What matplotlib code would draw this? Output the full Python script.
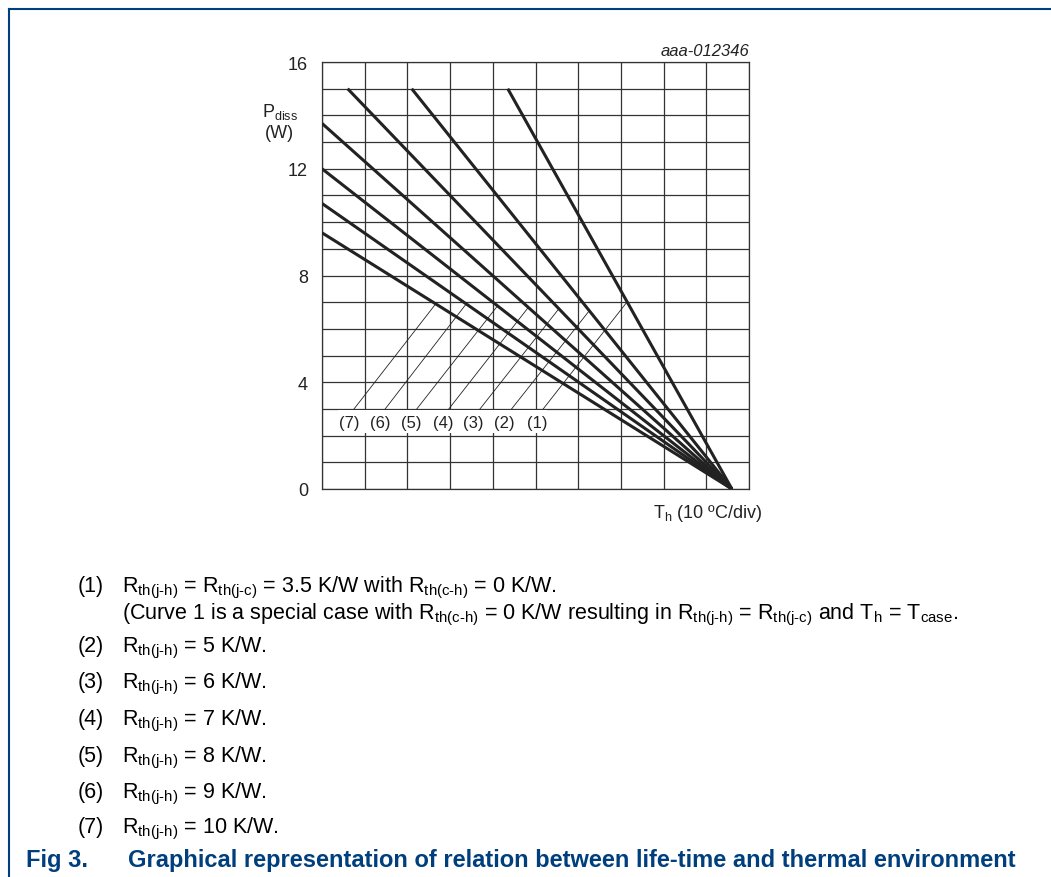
import matplotlib
matplotlib.use("Agg")
import matplotlib.pyplot as plt
from matplotlib.lines import Line2D
from matplotlib.patches import Rectangle

plt.rcParams['font.family'] = ['Liberation Sans', 'DejaVu Sans']
plt.rcParams['mathtext.fontset'] = 'custom'
plt.rcParams['mathtext.rm'] = 'Liberation Sans'
plt.rcParams['mathtext.it'] = 'Liberation Sans:italic'
plt.rcParams['mathtext.default'] = 'regular'

# curves: straight lines from a start point to the common end point (Tj max)
curve_ids = ["(1)", "(2)", "(3)", "(4)", "(5)", "(6)", "(7)"]
start_x = [4.35, 2.1, 0.6, 0.0, 0.0, 0.0, 0.0]
start_p = [15.0, 15.0, 15.0, 13.7, 12.0, 10.7, 9.6]
end_x = 9.6
end_p = 0.0

# curve labels and their leader lines
label_x = [5.03, 4.28, 3.55, 2.83, 2.1, 1.37, 0.63]
label_y = 2.5
leader_x0 = [5.18, 4.44, 3.70, 2.97, 2.22, 1.48, 0.75]
leader_y0 = 3.0
leader_x1 = [7.14, 6.26, 5.54, 4.82, 4.11, 3.37, 2.66]
leader_y1 = [7.0, 6.68, 6.74, 6.78, 6.86, 6.92, 6.93]

y_ticks = [0, 4, 8, 12, 16]

HY = "\u2010"
notes = [
    ("(1)", "R$_{th(j" + HY + "h)}$ = R$_{th(j" + HY + "c)}$ = 3.5 K/W with R$_{th(c" + HY + "h)}$ = 0 K/W."),
    ("", "(Curve 1 is a special case with R$_{th(c" + HY + "h)}$ = 0 K/W resulting in R$_{th(j" + HY + "h)}$"
         " = R$_{th(j" + HY + "c)}$ and T$_h$ = T$_{case}$."),
    ("(2)", "R$_{th(j" + HY + "h)}$ = 5 K/W."),
    ("(3)", "R$_{th(j" + HY + "h)}$ = 6 K/W."),
    ("(4)", "R$_{th(j" + HY + "h)}$ = 7 K/W."),
    ("(5)", "R$_{th(j" + HY + "h)}$ = 8 K/W."),
    ("(6)", "R$_{th(j" + HY + "h)}$ = 9 K/W."),
    ("(7)", "R$_{th(j" + HY + "h)}$ = 10 K/W."),
]
note_baselines = [592, 619, 652, 688, 725, 762, 798, 833]

W, H = 1051, 878
fig = plt.figure(figsize=(W / 100, H / 100), dpi=100)
ax = fig.add_axes([322 / W, 1 - 490 / H, 427 / W, 427 / H])

ink = "#222222"
ax.set_xlim(0, 10)
ax.set_ylim(0, 16)
ax.set_xticks(range(11))
ax.set_yticks(range(17))
ax.set_xticklabels([])
ax.set_yticklabels([str(v) if v in y_ticks else "" for v in range(17)], fontsize=13, color=ink)
ax.tick_params(length=0, pad=10)
ax.grid(True, color="#333333", linewidth=0.9)
for s in ax.spines.values():
    s.set_color("#333333")
    s.set_linewidth(0.9)

for x0, p0 in zip(start_x, start_p):
    ax.plot([x0, end_x], [p0, end_p], color=ink, linewidth=2.2, solid_capstyle="butt", zorder=4)

ax.add_patch(Rectangle((0.37, 2.1), 4.9, 0.85, facecolor="white", edgecolor="none", zorder=3))
for i, cid in enumerate(curve_ids):
    ax.text(label_x[i], label_y, cid, fontsize=12, color=ink, ha="center", va="center", zorder=5)
    ax.plot([leader_x0[i], leader_x1[i]], [leader_y0, leader_y1[i]], color=ink, linewidth=0.6, zorder=4)

fig.text(749 / W, 1 - 51 / H, "aaa-012346", fontsize=12, style="italic", color=ink, ha="right", va="center")
fig.text(280 / W, 1 - 117 / H, "P$_{diss}$", fontsize=13, color=ink, ha="center", va="baseline")
fig.text(279 / W, 1 - 133 / H, "(W)", fontsize=13, color=ink, ha="center", va="center")
fig.text(762 / W, 1 - 513 / H, "T$_h$ (10 \u00baC/div)", fontsize=13, color=ink, ha="right", va="center")

for (num, body), yb in zip(notes, note_baselines):
    if num:
        fig.text(78 / W, 1 - yb / H, num, fontsize=15.5, ha="left", va="baseline")
    fig.text(122 / W, 1 - yb / H, body, fontsize=15.5, ha="left", va="baseline")

navy = "#003f7d"
fig.text(26 / W, 1 - 867 / H, "Fig 3.", fontsize=17, fontweight="bold", color=navy, ha="left", va="baseline")
fig.text(128 / W, 1 - 867 / H, "Graphical representation of relation between life-time and thermal environment",
         fontsize=17, fontweight="bold", color=navy, ha="left", va="baseline")

fig.add_artist(Line2D([9 / W, 1], [1 - 10 / H, 1 - 10 / H], color=navy, linewidth=1.5))
fig.add_artist(Line2D([9 / W, 9 / W], [1 - 10 / H, 0], color=navy, linewidth=1.5))

fig.savefig("out.png", dpi=100)
